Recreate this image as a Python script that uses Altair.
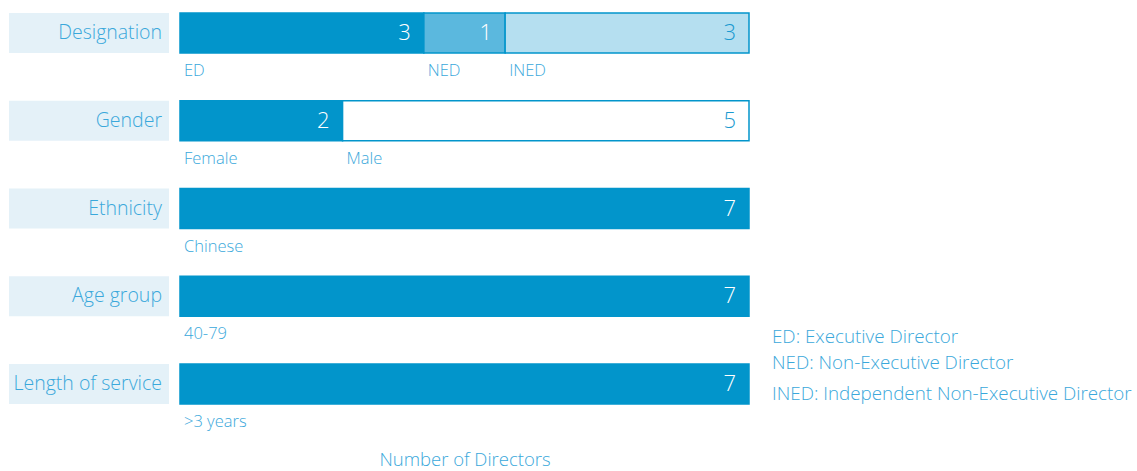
import altair as alt
import pandas as pd

categories = ["Designation", "Gender", "Ethnicity", "Age group", "Length of service"]
seg_category = ["Designation", "Designation", "Designation", "Gender", "Gender",
                "Ethnicity", "Age group", "Length of service"]
seg_label = ["ED", "NED", "INED", "Female", "Male", "Chinese", "40-79", ">3 years"]
seg_value = [3, 1, 3, 2, 5, 7, 7, 7]
seg_fill = ["#0295cb", "#5bb8de", "#b5dff0", "#0295cb", "#ffffff", "#0295cb", "#0295cb", "#0295cb"]
seg_textcol = ["#ffffff", "#ffffff", "#1a9ad0", "#ffffff", "#1a9ad0", "#ffffff", "#ffffff", "#ffffff"]
legend_lines = ["ED: Executive Director", "NED: Non-Executive Director",
                "INED: Independent Non-Executive Director"]
x_title = "Number of Directors"

FONT = "Open Sans"
TXT = "#3aa8db"

# stack segments per category
starts, ends = [], []
acc = {}
for c, v in zip(seg_category, seg_value):
    s = acc.get(c, 0)
    starts.append(s)
    ends.append(s + v)
    acc[c] = s + v

df = pd.DataFrame({
    "category": seg_category, "label": seg_label, "value": seg_value,
    "start": starts, "end": ends, "fill": seg_fill, "tcol": seg_textcol,
})
cat_df = pd.DataFrame({"category": categories})

yenc = alt.Y("category:N", sort=categories, axis=None,
             scale=alt.Scale(paddingInner=0.544, paddingOuter=0))

# left label boxes
left_base = alt.Chart(cat_df)
boxes = left_base.mark_rect(color="#e4f1f8").encode(
    y=yenc, x=alt.value(0), x2=alt.value(160))
box_text = left_base.mark_text(align="right", baseline="middle", font=FONT,
                               fontSize=19.5, color=TXT, fontWeight=300).encode(
    y=yenc, x=alt.value(153), text="category:N")
left = alt.layer(boxes, box_text).properties(width=160, height=391)

# bars
xscale = alt.Scale(domain=[0, 7], nice=False, zero=True)
base = alt.Chart(df)
bars = base.mark_bar(stroke="#0295cb", strokeWidth=1.5).encode(
    y=yenc,
    x=alt.X("start:Q", scale=xscale,
            axis=alt.Axis(labels=False, ticks=False, domain=False, grid=False,
                          title=x_title, titleFont=FONT, titleFontSize=18.5,
                          titleFontWeight=300, titleColor=TXT, titlePadding=46)),
    x2="end:Q",
    color=alt.Color("fill:N", scale=None),
)
vals = base.mark_text(align="right", baseline="middle", dx=-13, font=FONT,
                      fontSize=22, fontWeight=300).encode(
    y=yenc, x="end:Q", text="value:Q",
    color=alt.Color("tcol:N", scale=None))
subs = base.mark_text(align="left", baseline="middle", dx=4, dy=38, font=FONT,
                      fontSize=16.5, fontWeight=300, color=TXT).encode(
    y=yenc, x="start:Q", text="label:N")
mid = alt.layer(bars, vals, subs).properties(width=569, height=391)

# legend text
leg_df = pd.DataFrame({"line": legend_lines})
leg_y = [324, 350, 381]
leg_layers = []
for i, line in enumerate(legend_lines):
    leg_layers.append(
        alt.Chart(leg_df).transform_filter(alt.datum.line == line)
        .mark_text(align="left", baseline="middle", font=FONT, fontSize=18.8,
                   fontWeight=300, color=TXT)
        .encode(text="line:N", x=alt.value(12), y=alt.value(leg_y[i]))
    )
legend = alt.layer(*leg_layers).properties(width=360, height=391)

chart = alt.hconcat(left, mid, legend, spacing=10).properties(
    padding={"left": 9, "top": 12, "right": 0, "bottom": 4}
).configure_view(stroke=None).resolve_scale(y="shared")

chart.save("out.html", embed_options={"renderer": "svg", "actions": False})
